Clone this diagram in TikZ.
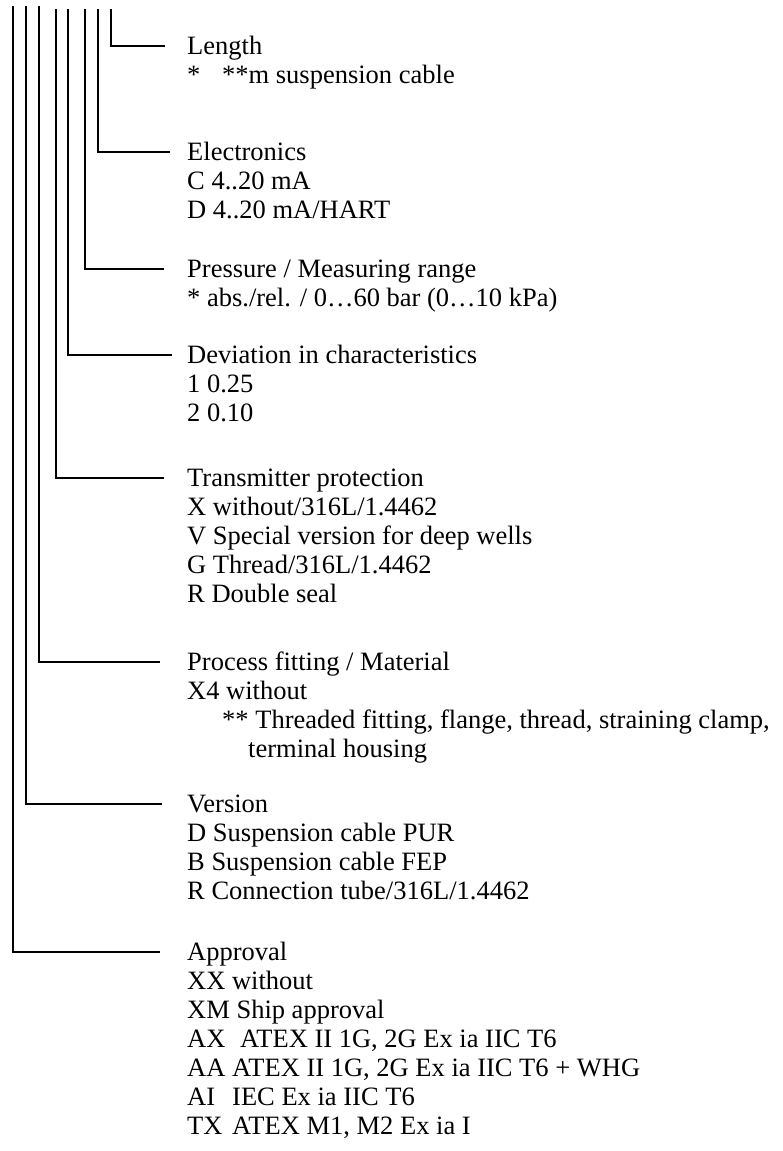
\documentclass[tikz,border=0pt]{standalone}
\usepackage{fontspec}
\setmainfont{Liberation Serif}
\newcommand{\blk}[1]{\begin{tabular}[t]{@{}l@{}}#1\end{tabular}}
\begin{document}
\begin{tikzpicture}[x=1pt,y=-1pt]
\tikzset{
  lbl/.style={anchor=base west, inner sep=0pt, font=\fontsize{26.5}{29}\selectfont},
  conn/.style={line width=1.2pt, black}
}
\useasboundingbox (0,0) rectangle (782,1151);
% tops of the vertical lines
\coordinate (t8) at (13,6);
\coordinate (t7) at (26,6);
\coordinate (t6) at (39,6);
\coordinate (t5) at (56,9);
\coordinate (t4) at (68,9);
\coordinate (t3) at (85,9);
\coordinate (t2) at (98,9);
\coordinate (t1) at (111,9);
% ends of the horizontal lines
\coordinate (e1) at (165,46);
\coordinate (e2) at (170,152);
\coordinate (e3) at (164,269);
\coordinate (e4) at (172,355);
\coordinate (e5) at (164,478);
\coordinate (e6) at (160,662);
\coordinate (e7) at (162,804);
\coordinate (e8) at (160,952);

\node[lbl] (length) at (187,54) {\blk{Length\\\relax\makebox[1.32em][l]{*}**m suspension cable}};
\node[lbl] (elec) at (187,160) {\blk{Electronics\\C 4..20 mA\\D 4..20 mA/HART}};
\node[lbl] (press) at (187,277) {\blk{Pressure / Measuring range\\\relax * abs./rel. / 0…60 bar (0…10 kPa)}};
\node[lbl] (dev) at (187,363) {\blk{Deviation in characteristics\\1 0.25\\2 0.10}};
\node[lbl] (trans) at (187,486) {\blk{Transmitter protection\\X without/316L/1.4462\\V Special version for deep wells\\G Thread/316L/1.4462\\R Double seal}};
\node[lbl] (proc) at (187,670) {\blk{Process fitting / Material\\X4 without\\\hspace*{35pt}** Threaded fitting, flange, thread, straining clamp,\\\hspace*{61pt}terminal housing}};
\node[lbl] (vers) at (187,812) {\blk{Version\\D Suspension cable PUR\\B Suspension cable FEP\\R Connection tube/316L/1.4462}};
\node[lbl] (appr) at (187,960) {\blk{Approval\\XX without\\XM Ship approval\\\makebox[2.0em][l]{AX}ATEX II 1G, 2G Ex ia IIC T6\\\makebox[1.7em][l]{AA}ATEX II 1G, 2G Ex ia IIC T6 + WHG\\\makebox[1.7em][l]{AI}IEC Ex ia IIC T6\\\makebox[1.7em][l]{TX}ATEX M1, M2 Ex ia I}};

\draw[conn] (t1) |- (e1);
\draw[conn] (t2) |- (e2);
\draw[conn] (t3) |- (e3);
\draw[conn] (t4) |- (e4);
\draw[conn] (t5) |- (e5);
\draw[conn] (t6) |- (e6);
\draw[conn] (t7) |- (e7);
\draw[conn] (t8) |- (e8);
\end{tikzpicture}
\end{document}
